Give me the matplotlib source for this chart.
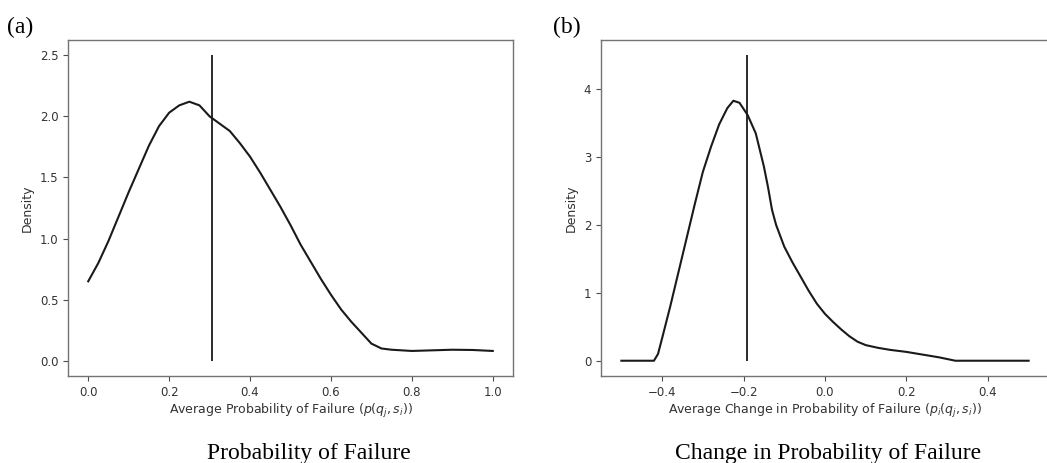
import matplotlib
matplotlib.use("Agg")
import matplotlib.pyplot as plt
import numpy as np

# ---- data ----
pf_x = [0.00, 0.025, 0.05, 0.075, 0.10, 0.125, 0.15, 0.175, 0.20, 0.225, 0.25, 0.275,
        0.30, 0.325, 0.35, 0.375, 0.40, 0.425, 0.45, 0.475, 0.50, 0.525, 0.55, 0.575,
        0.60, 0.625, 0.65, 0.675, 0.70, 0.725, 0.75, 0.80, 0.85, 0.90, 0.95, 1.00]
pf_density = [0.65, 0.80, 0.98, 1.18, 1.38, 1.57, 1.76, 1.92, 2.03, 2.09, 2.12, 2.09,
              2.00, 1.94, 1.88, 1.78, 1.67, 1.54, 1.40, 1.26, 1.11, 0.95, 0.81, 0.67,
              0.54, 0.42, 0.32, 0.23, 0.14, 0.10, 0.09, 0.08, 0.085, 0.09, 0.088, 0.08]
pf_mean = 0.306
pf_line_top = 2.5

dpf_x = [-0.50, -0.45, -0.42, -0.41, -0.40, -0.38, -0.36, -0.34, -0.32, -0.30, -0.28,
         -0.26, -0.24, -0.225, -0.21, -0.19, -0.17, -0.15, -0.14, -0.13, -0.12, -0.10,
         -0.08, -0.06, -0.04, -0.02, 0.00, 0.02, 0.04, 0.06, 0.08, 0.10, 0.13, 0.16,
         0.20, 0.24, 0.28, 0.32, 0.40, 0.50]
dpf_density = [0.0, 0.0, 0.0, 0.10, 0.33, 0.80, 1.30, 1.80, 2.30, 2.78, 3.15,
               3.48, 3.72, 3.83, 3.80, 3.62, 3.35, 2.86, 2.56, 2.22, 2.00, 1.68,
               1.45, 1.24, 1.03, 0.84, 0.69, 0.57, 0.46, 0.36, 0.28, 0.23, 0.19, 0.16,
               0.13, 0.09, 0.05, 0.0, 0.0, 0.0]
dpf_mean = -0.192
dpf_line_top = 4.5

left_xticks = [0.0, 0.2, 0.4, 0.6, 0.8, 1.0]
left_yticks = [0.0, 0.5, 1.0, 1.5, 2.0, 2.5]
right_xticks = [-0.4, -0.2, 0.0, 0.2, 0.4]
right_yticks = [0, 1, 2, 3, 4]

W, H = 1047, 463
fig = plt.figure(figsize=(W / 100, H / 100), dpi=100)

def px_axes(l, r, t, b):
    return fig.add_axes([l / W, 1 - b / H, (r - l) / W, (b - t) / H])

ax1 = px_axes(68, 513, 40, 376)
ax2 = px_axes(601, 1049, 40, 376)

line_c = "#1a1a1a"
for ax in (ax1, ax2):
    for s in ax.spines.values():
        s.set_color("0.45")
        s.set_linewidth(1.0)
    ax.tick_params(labelsize=8.5, labelcolor="#333333", length=3.5, width=0.8, color="0.3")

ax1.plot(pf_x, pf_density, color=line_c, lw=1.5)
ax1.vlines(pf_mean, 0, pf_line_top, color=line_c, lw=1.3)
ax1.set_xticks(left_xticks)
ax1.set_yticks(left_yticks)
ax1.set_xlim(-0.05, 1.05)
ax1.set_ylim(-0.125, 2.625)
ax1.set_xlabel(r"Average Probability of Failure ($p(q_j, s_i)$)", fontsize=9, color="#333333", labelpad=2)
ax1.set_ylabel("Density", fontsize=9, color="#333333")

ax2.plot(dpf_x, dpf_density, color=line_c, lw=1.5)
ax2.vlines(dpf_mean, 0, dpf_line_top, color=line_c, lw=1.3)
ax2.set_xticks(right_xticks)
ax2.set_yticks(right_yticks)
ax2.set_xlim(-0.55, 0.55)
ax2.set_ylim(-0.225, 4.725)
ax2.set_xlabel(r"Average Change in Probability of Failure ($p_i(q_j, s_i)$)", fontsize=9, color="#333333", labelpad=2)
ax2.set_ylabel("Density", fontsize=9, color="#333333")

serif = ["Liberation Serif", "DejaVu Serif"]
fig.text(7 / W, 1 - 33 / H, "(a)", family=serif, fontsize=17, ha="left", va="baseline")
fig.text(553 / W, 1 - 33 / H, "(b)", family=serif, fontsize=17, ha="left", va="baseline")
fig.text(309 / W, 1 - 459 / H, "Probability of Failure", family=serif, fontsize=17, ha="center", va="baseline")
fig.text(828 / W, 1 - 459 / H, "Change in Probability of Failure", family=serif, fontsize=17, ha="center", va="baseline")

fig.savefig("out.png", dpi=100)
